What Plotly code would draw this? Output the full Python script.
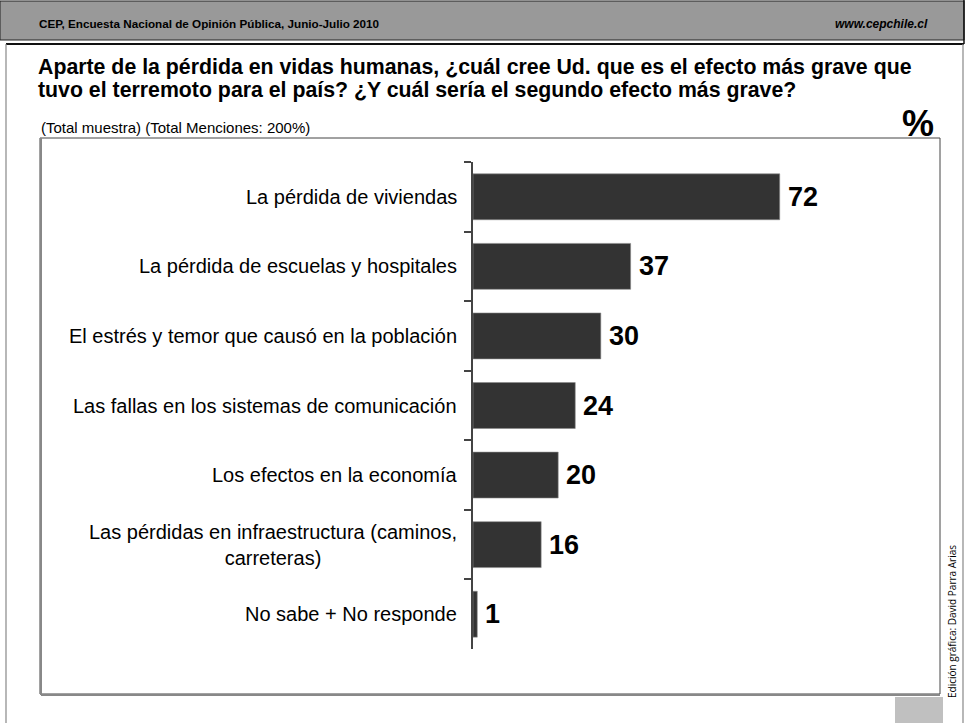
import plotly.graph_objects as go

W, H = 968, 723

CATEGORIES = [
    "La pérdida de viviendas",
    "La pérdida de escuelas y hospitales",
    "El estrés y temor que causó en la población",
    "Las fallas en los sistemas de comunicación",
    "Los efectos en la economía",
    "Las pérdidas en infraestructura (caminos,<br>carreteras)",
    "No sabe + No responde",
]
VALUES = [72, 37, 30, 24, 20, 16, 1]

HEADER = "CEP, Encuesta Nacional de Opinión Pública, Junio-Julio 2010"
SITE = "www.cepchile.cl"
TITLE_1 = "Aparte de la pérdida en vidas humanas, ¿cuál cree Ud. que es el efecto más grave que"
TITLE_2 = "tuvo el terremoto para el país? ¿Y cuál sería el segundo efecto más grave?"
SUBTITLE = "(Total muestra) (Total Menciones: 200%)"
CREDIT = "Edición gráfica: David Parra Arias"

FONT = "Arial, Liberation Sans, sans-serif"
BAR = "#333333"


def px(x):
    return x / W


def py(y):
    return 1 - y / H


# plot area in pixels
X0, X1 = 473, 940
Y0, Y1 = 162, 649
PX_PER_UNIT = 4.26

fig = go.Figure()
fig.add_trace(go.Bar(
    x=VALUES, y=CATEGORIES, orientation="h",
    marker=dict(color=BAR, line=dict(color="#8a8a8a", width=0.6)),
    hoverinfo="x+y",
))

# value labels
for c, v in zip(CATEGORIES, VALUES):
    fig.add_annotation(x=v, y=c, xref="x", yref="y", text=f"<b>{v}</b>",
                       showarrow=False, xanchor="left", xshift=6,
                       font=dict(family=FONT, size=27, color="#000"))

# category labels
for c in CATEGORIES:
    fig.add_annotation(x=px(459), y=c, xref="paper", yref="y", text=c,
                       showarrow=False, xanchor="right", align="center",
                       font=dict(family=FONT, size=20, color="#000"))


def line(x0, y0, x1, y1, color, width):
    return dict(type="line", xref="paper", yref="paper",
                x0=px(x0), x1=px(x1), y0=py(y0), y1=py(y1),
                line=dict(color=color, width=width))


shapes = [
    # header band
    dict(type="rect", xref="paper", yref="paper", x0=px(0), x1=px(964), y0=py(1), y1=py(40),
         fillcolor="#999999", line=dict(color="#222", width=1)),
    line(6, 44, 964, 44, "#111", 2),
    line(964, 0, 964, 44, "#111", 1.5),
    line(6, 44, 6, 723, "#888", 1.2),
    line(963, 44, 963, 723, "#888", 1.2),
    # frame
    dict(type="rect", xref="paper", yref="paper", x0=px(40), x1=px(940), y0=py(138), y1=py(694),
         line=dict(color="#444", width=1)),
    line(41, 695, 940, 695, "#888", 2),
    line(41, 138, 41, 695, "#888", 2),
    # grey square
    dict(type="rect", xref="paper", yref="paper", x0=px(895), x1=px(943), y0=py(697), y1=py(723),
         fillcolor="#c0c0c0", line=dict(width=0)),
]

texts = [
    dict(x=37, y=24, text=f"<b>{HEADER}</b>", xanchor="left", size=11.7),
    dict(x=930, y=24, text=f"<b><i>{SITE}</i></b>", xanchor="right", size=12),
    dict(x=36, y=67, text=f"<b>{TITLE_1}</b>", xanchor="left", size=21.3),
    dict(x=36, y=90, text=f"<b>{TITLE_2}</b>", xanchor="left", size=21.3),
    dict(x=39, y=127, text=SUBTITLE, xanchor="left", size=15),
    dict(x=936, y=123, text="<b>%</b>", xanchor="right", size=36),
]
for t in texts:
    fig.add_annotation(x=px(t["x"]), y=py(t["y"]), xref="paper", yref="paper", text=t["text"],
                       showarrow=False, xanchor=t["xanchor"], yanchor="middle", align="left",
                       font=dict(family=FONT, size=t["size"], color="#000"))

fig.add_annotation(x=px(952), y=py(622), xref="paper", yref="paper", text=CREDIT,
                   showarrow=False, textangle=-90, xanchor="center", yanchor="middle",
                   font=dict(family="Open Sans, sans-serif", size=10, color="#000"))

fig.update_layout(
    width=W, height=H,
    margin=dict(l=0, r=0, t=0, b=0, pad=0),
    paper_bgcolor="white", plot_bgcolor="white",
    showlegend=False, bargap=0.34,
    shapes=shapes,
    xaxis=dict(domain=[px(X0), px(X1)], range=[0, (X1 - X0) / PX_PER_UNIT],
               visible=False, fixedrange=True),
    yaxis=dict(domain=[py(Y1), py(Y0)], autorange="reversed",
               showline=True, linecolor="#444", linewidth=2,
               ticks="outside", tickson="boundaries", ticklen=7, tickcolor="#444", tickwidth=1.5,
               showticklabels=False, showgrid=False, zeroline=False, fixedrange=True),
)

fig.write_html("out.html", config={"displayModeBar": False},
               post_script="document.body.style.margin='0';")
